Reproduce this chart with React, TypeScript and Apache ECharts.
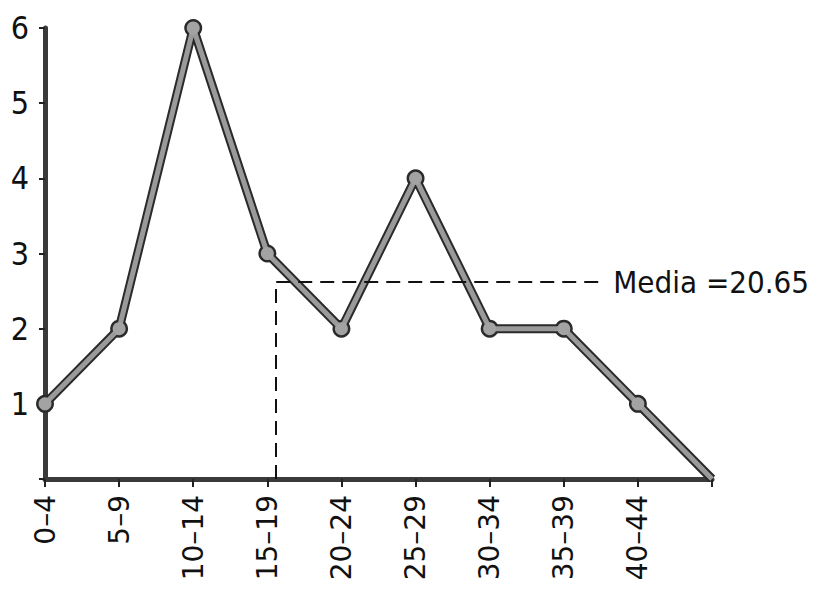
import React, { useEffect, useRef } from "react";
import * as echarts from "echarts";

const categories = ["0–4", "5–9", "10–14", "15–19", "20–24", "25–29", "30–34", "35–39", "40–44", ""];
const counts = [1, 2, 6, 3, 2, 4, 2, 2, 1, 0];
const yTicks = [0, 1, 2, 3, 4, 5, 6];
const medianLabel = "Media =20.65";
const medianPos = [3.12, 2.62];
const medianLineEnd = 7.56;

const FONT = "'DejaVu Sans Condensed', 'DejaVu Sans', sans-serif";
const FONT_WIDE = "'DejaVu Sans', sans-serif";

export default function App() {
  const ref = useRef<HTMLDivElement>(null);
  useEffect(() => {
    if (!ref.current) return;
    const chart = echarts.init(ref.current, null, { renderer: "svg" });
    const last = counts.length - 1;
    const pts = counts.map((v, i) =>
      i === last ? { value: [i, v], symbol: "none" } : { value: [i, v] }
    );
    chart.setOption({
      animation: false,
      backgroundColor: "#ffffff",
      grid: { left: 45, top: 28, right: 127, bottom: 121, containLabel: false },
      xAxis: {
        type: "value",
        min: 0,
        max: categories.length - 1,
        interval: 1,
        splitLine: { show: false },
        axisLine: { show: true, lineStyle: { color: "#3a3a3a", width: 5 } },
        axisTick: { show: true, length: 8, lineStyle: { color: "#222", width: 2 } },
        axisLabel: {
          rotate: 90,
          margin: 16,
          fontSize: 28,
          color: "#111",
          fontFamily: FONT_WIDE,
          formatter: (v: number) => categories[Math.round(v)] ?? "",
        },
      },
      yAxis: {
        type: "value",
        min: yTicks[0],
        max: yTicks[yTicks.length - 1],
        interval: 1,
        splitLine: { show: false },
        axisLine: { show: true, lineStyle: { color: "#3a3a3a", width: 5 } },
        axisTick: { show: true, length: 6, lineStyle: { color: "#222", width: 2 } },
        axisLabel: {
          margin: 16,
          fontSize: 32,
          color: "#111",
          fontFamily: FONT,
          formatter: (v: number) => (v === 0 ? "" : String(v)),
        },
      },
      series: [
        {
          type: "line",
          data: pts,
          symbol: "circle",
          symbolSize: 18,
          itemStyle: { color: "#2a2a2a" },
          lineStyle: { color: "#2a2a2a", width: 9 },
          z: 2,
          markLine: {
            silent: true,
            symbol: "none",
            lineStyle: { color: "#111", width: 2, type: [14, 8] },
            label: {
              show: true,
              position: "end",
              distance: 8,
              fontSize: 31,
              color: "#111",
              fontFamily: FONT,
              formatter: medianLabel,
            },
            data: [
              [
                { coord: [medianPos[0], 0], label: { show: false } },
                { coord: [medianPos[0], medianPos[1]] },
              ],
              [
                { coord: [medianPos[0], medianPos[1]] },
                { coord: [medianLineEnd, medianPos[1]] },
              ],
            ],
          },
        },
        {
          type: "line",
          data: pts,
          symbol: "circle",
          symbolSize: 13,
          itemStyle: { color: "#a3a3a3" },
          lineStyle: { color: "#9a9a9a", width: 5 },
          z: 3,
        },
      ],
    });
    return () => chart.dispose();
  }, []);
  return (
    <div
      ref={ref}
      style={{ position: "absolute", left: 0, top: 0, width: 839, height: 600, background: "#fff" }}
    />
  );
}
